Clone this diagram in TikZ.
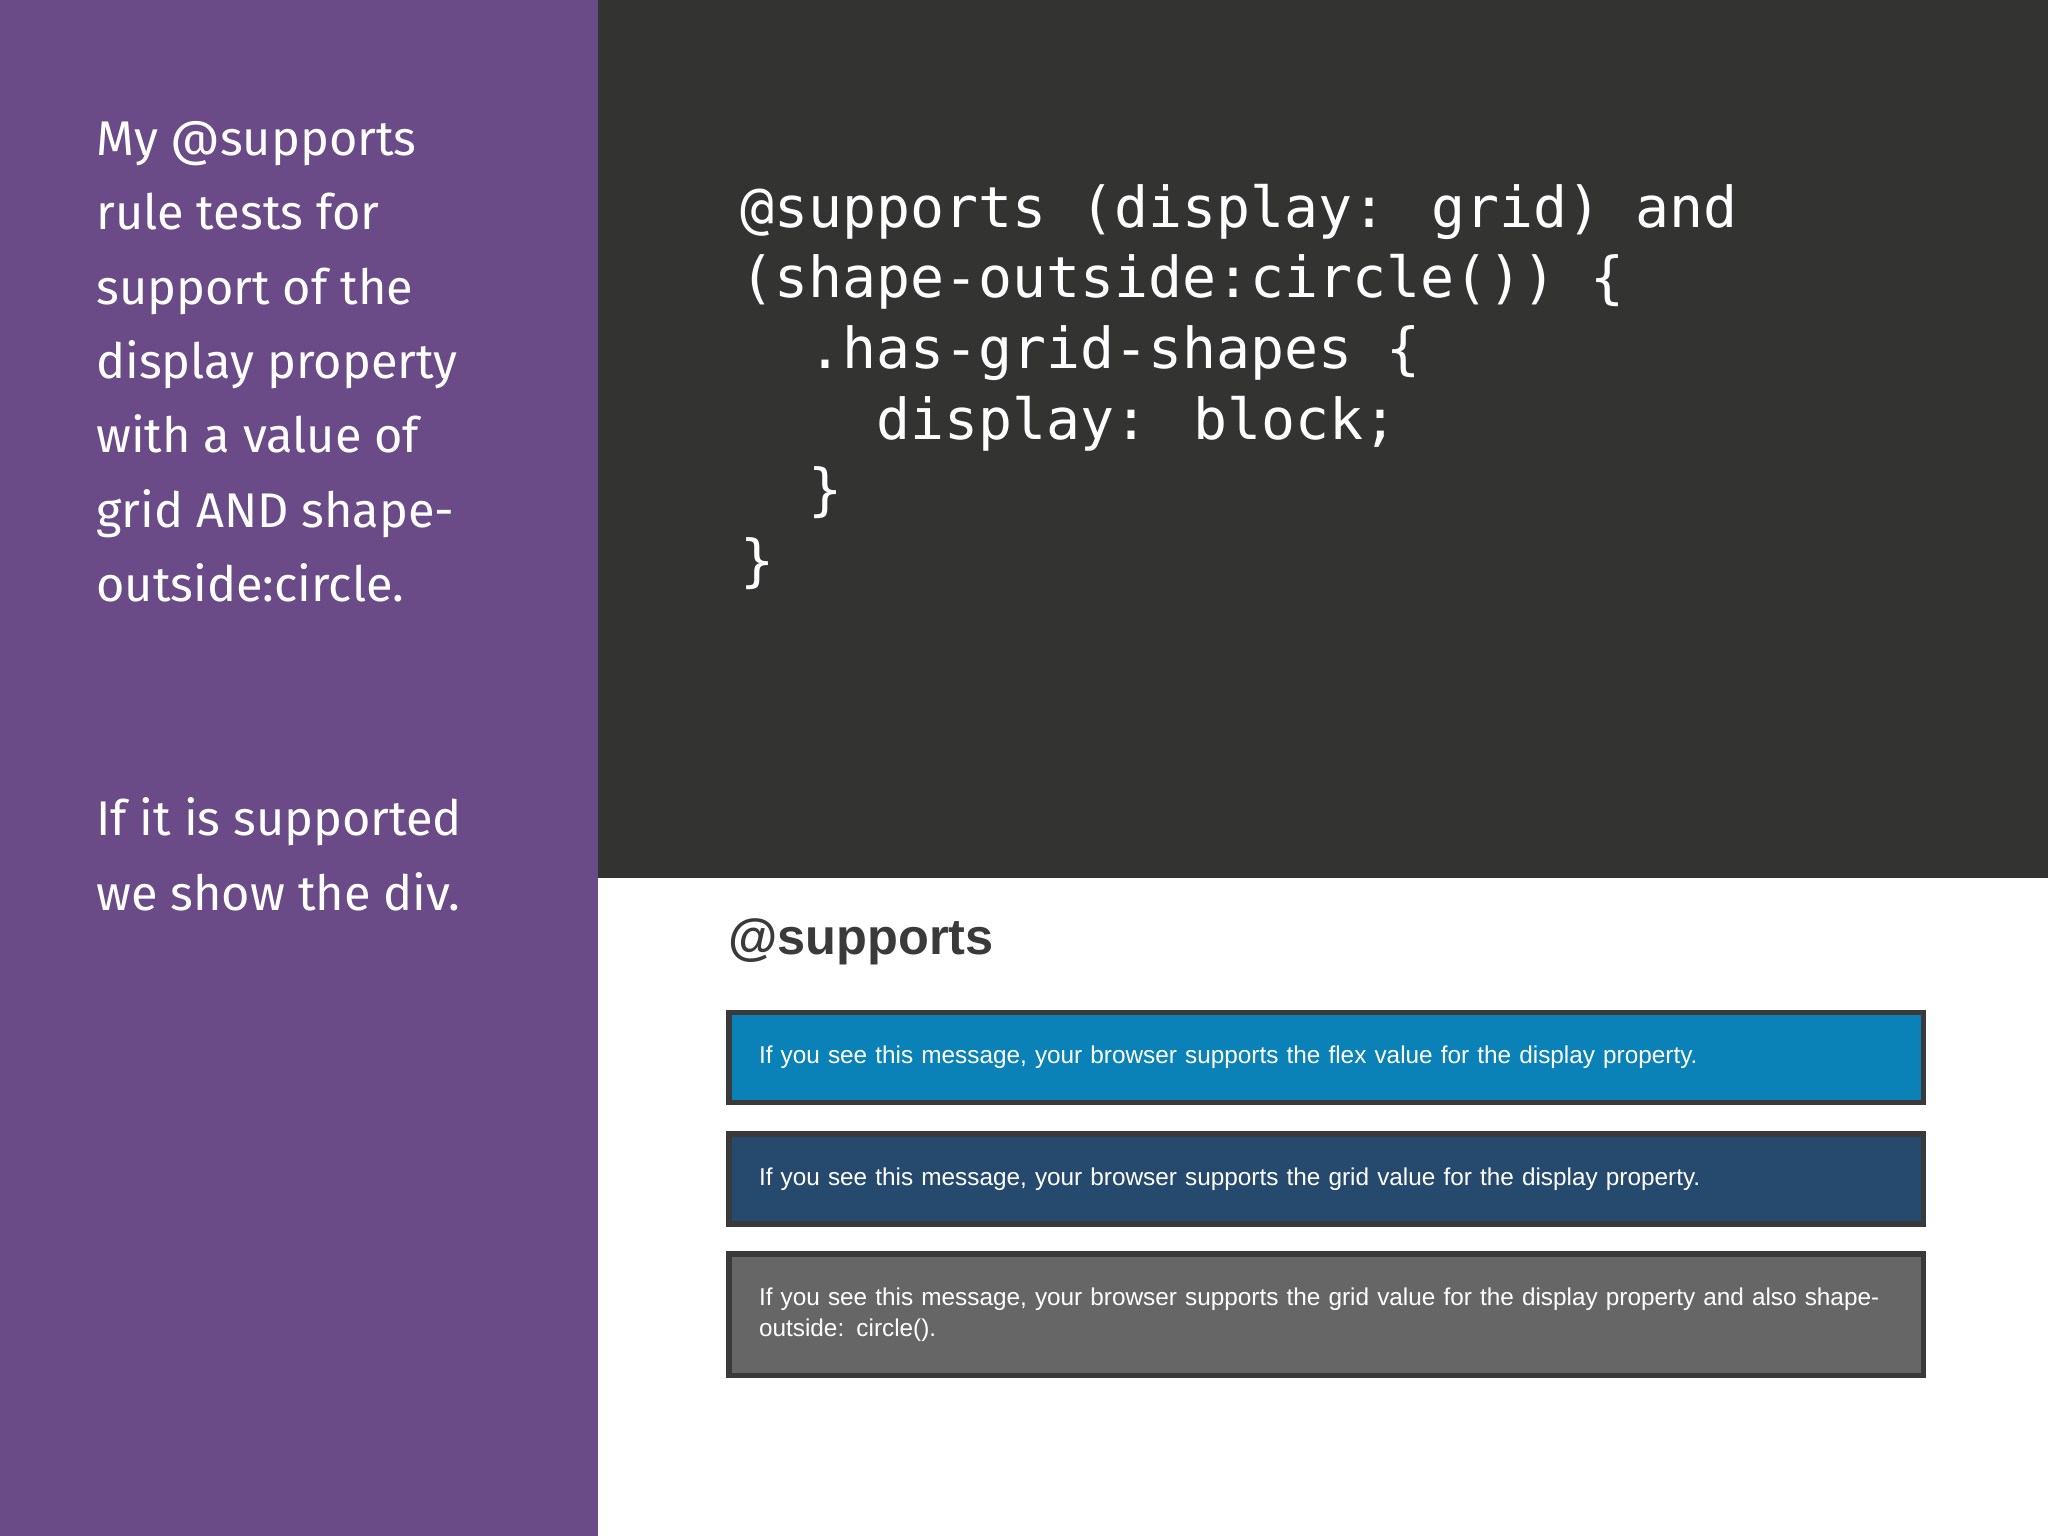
\documentclass[tikz,border=0pt]{standalone}
\usepackage{fontspec}
\setmainfont{Fira Sans}
\newfontfamily\codefont{DejaVu Sans Mono}
\newfontfamily\webfont{Liberation Sans}
\definecolor{purp}{HTML}{6A4A87}
\definecolor{dark}{HTML}{333432}
\definecolor{bA}{HTML}{0A82B8}
\definecolor{bB}{HTML}{264A6E}
\definecolor{bC}{HTML}{666666}
\definecolor{bord}{HTML}{3A3A3A}
\tikzset{msg/.style={draw=bord,line width=1.2pt,anchor=north west,minimum width=9.14cm,inner xsep=0.23cm,text width=8.68cm,align=left,text=white,font=\webfont\fontsize{5.3}{6.6}\selectfont}}
\begin{document}
\begin{tikzpicture}[x=0.01cm,y=-0.01cm]
\useasboundingbox (0,0) rectangle (1568,1176);
\fill[white] (0,0) rectangle (1568,1176);
\fill[purp] (0,0) rectangle (458,1176);
\fill[dark] (458,0) rectangle (1568,672);
\node[anchor=north west,text=white,align=left,inner sep=0,font=\fontsize{10.6}{16.2}\selectfont] (lt) at (73,92) {My @supports\\rule tests for\\support of the\\display property\\with a value of\\grid AND shape-\\outside:circle.};
\node[anchor=north west,text=white,align=left,inner sep=0,font=\fontsize{10.6}{16.2}\selectfont] (lt2) at (73,610) {If it is supported\\we show the div.};
\node[anchor=north west,text=white,align=left,inner sep=0,font=\codefont\fontsize{12.3}{15.4}\selectfont] (code) at (566,140) {@supports (display: grid) and\\(shape-outside:circle()) \{\\\ \ .has-grid-shapes \{\\\ \ \ \ display: block;\\\ \ \}\\\}};
\node[anchor=west,inner sep=0,text=bord,font=\webfont\bfseries\fontsize{11}{13}\selectfont] (h) at (557,721) {@supports};
\node[msg,fill=bA,minimum height=0.69cm] (m1) at (556,773) {If you see this message, your browser supports the flex value for the display property.};
\node[msg,fill=bB,minimum height=0.69cm] (m2) at (556,866) {If you see this message, your browser supports the grid value for the display property.};
\node[msg,fill=bC,minimum height=0.93cm] (m3) at (556,958) {If you see this message, your browser supports the grid value for the display property and also shape-outside: circle().};
\end{tikzpicture}
\end{document}
